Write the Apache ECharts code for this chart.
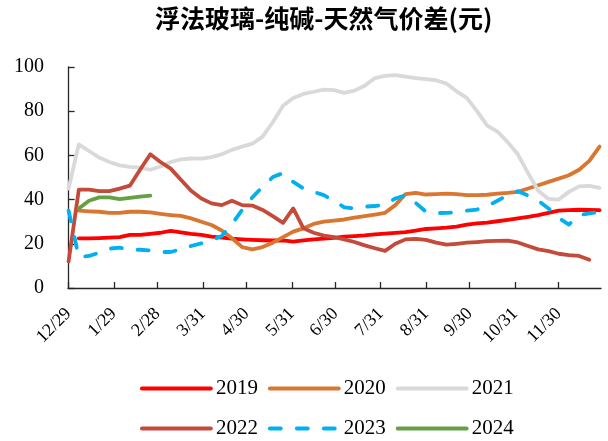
<!DOCTYPE html>
<html>
<head>
<meta charset="utf-8">
<script src="https://cdn.jsdelivr.net/npm/echarts@6/dist/echarts.min.js"></script>
<style>
  html, body { margin: 0; padding: 0; background: #fff; }
  #chart { width: 608px; height: 441px; }
</style>
</head>
<body>
<div id="chart"></div>
<script>
// Weekly sample positions, in days counted from 12/29
const weekDays = [0, 7, 14, 21, 28, 35, 42, 49, 56, 63, 70, 77, 84, 91, 98, 105, 112, 119, 126, 133,
  140, 147, 154, 161, 168, 175, 182, 189, 196, 203, 210, 217, 224, 231, 238, 245, 252, 259, 266,
  273, 280, 287, 294, 301, 308, 315, 322, 329, 336, 343, 350, 357, 364];

// Month-end tick positions (days from 12/29) and their labels
const tickDays = [0, 31, 61, 92, 122, 153, 183, 214, 245, 275, 306, 336];
const tickLabels = ['12/29', '1/29', '2/28', '3/31', '4/30', '5/31', '6/30', '7/31', '8/31', '9/30', '10/31', '11/30'];

const seriesNames = ['2019', '2020', '2021', '2022', '2023', '2024'];

const v2019 = [null, 22.5, 22.5, 22.6, 22.8, 23, 24, 24, 24.5, 25, 25.8, 25.2, 24.5, 24, 23.2, 22.8, 22.3,
  22, 21.8, 21.6, 21.5, 21.5, 21, 21.5, 22, 22.3, 22.7, 23.2, 23.5, 23.8, 24.3, 24.6, 24.9, 25.3, 26,
  26.7, 27, 27.3, 27.8, 28.7, 29.2, 29.6, 30.2, 30.8, 31.5, 32.2, 33, 34, 35, 35.2, 35.4, 35.3, 35.2];

const v2020 = [null, 35, 34.7, 34.5, 34, 34, 34.5, 34.5, 34.2, 33.5, 33, 32.6, 31.5, 30, 28.5, 26, 22.5,
  18.5, 17.5, 18.5, 20.5, 23, 25.5, 27, 29, 30, 30.5, 31, 31.8, 32.5, 33.2, 34, 37.5, 42.5, 43, 42.3,
  42.5, 42.7, 42.5, 42, 42, 42.2, 42.7, 43, 43.5, 45, 46.5, 48, 49.5, 51, 53.5, 57.5, 64];

const v2021 = [45, 65, 62, 59, 57, 55.5, 54.8, 54.5, 53.5, 55, 57, 58.2, 58.6, 58.5, 59.2, 60.5, 62.5,
  64, 65.3, 68.5, 75, 82.5, 86, 87.8, 88.8, 89.8, 89.5, 88.3, 89.3, 91.5, 95, 96, 96.3, 95.6, 95,
  94.5, 94, 92.5, 89, 86, 80, 73.5, 70.8, 66, 60.5, 52, 44, 40.3, 40, 43.5, 46, 46.2, 45.3];

const v2022 = [12, 44.5, 44.5, 43.8, 43.8, 45, 46.3, 53.5, 60.5, 57, 54, 49, 44, 40.5, 38.3, 37.5, 39.5,
  37.5, 37.3, 35.3, 32.5, 29.5, 36, 27, 25, 23.7, 23, 22, 20.8, 19.3, 18, 16.8, 20, 22, 22.2, 21.8,
  20.5, 19.6, 20, 20.5, 20.8, 21.2, 21.3, 21.4, 20.6, 19, 17.5, 16.7, 15.5, 14.9, 14.5, 12.8, null];

const v2023 = [35, 14, 14.5, 16, 17.8, 18.3, 17.3, 17.3, 17, 16.3, 16.3, 17.5, 19, 20.2, 21.5, 23.5, 29,
  35.3, 41, 45.8, 50.2, 52, 48, 45, 43.5, 42, 39.5, 36.5, 36, 36.8, 37.1, 37.8, 40.5, 42, 38.5, 34.5,
  33.9, 34, 34.3, 35, 35.5, 37, 39.5, 42, 43.8, 41.8, 39.5, 36, 31.7, 28.7, 33, 33.8, 34.5];

const v2024 = [null, 36, 39.5, 41, 41, 40.2, 40.8, 41.3, 41.8, null, null, null, null, null, null, null, null,
  null, null, null, null, null, null, null, null, null, null, null, null, null, null, null, null, null,
  null, null, null, null, null, null, null, null, null, null, null, null, null, null, null, null,
  null, null, null];

const seriesValues = [v2019, v2020, v2021, v2022, v2023, v2024];
const seriesColors = ['#FF0000', '#D9762F', '#D9D9D9', '#C44A3A', '#00B0F0', '#65A043'];
const dashPattern = [11, 16];

const serif = '"Liberation Serif", "Times New Roman", serif';

function pairs(values) {
  return weekDays.map((d, i) => [d, values[i]]);
}

const series = seriesNames.map((name, k) => ({
  name: name,
  type: 'line',
  symbol: 'none',
  smooth: false,
  connectNulls: false,
  data: pairs(seriesValues[k]),
  lineStyle: {
    color: seriesColors[k],
    width: 3.8,
    cap: 'round',
    join: 'round',
    type: name === '2023' ? dashPattern : 'solid'
  },
  itemStyle: { color: seriesColors[k] },
  emphasis: { disabled: true }
}));

// Legend entries: plain line swatches, no marker in the middle
const legendBase = {
  orient: 'horizontal',
  left: 140,
  padding: 0,
  itemWidth: 69,
  itemHeight: 14,
  itemGap: 10,
  selectedMode: false,
  itemStyle: { color: 'rgba(0,0,0,0)', borderWidth: 0 },
  lineStyle: { width: 3.8, cap: 'round' },
  textStyle: { fontFamily: serif, fontSize: 21, color: '#000' }
};

const chart = echarts.init(document.getElementById('chart'), null, { renderer: 'canvas' });
chart.setOption({
  animation: false,
  backgroundColor: '#fff',
  title: {
    text: '浮法玻璃-纯碱-天然气价差(元)',
    left: 150,
    top: 1,
    textStyle: {
      fontFamily: '"Noto Sans CJK SC", sans-serif',
      fontWeight: 'bold',
      fontSize: 25,
      color: '#000'
    }
  },
  legend: [
    Object.assign({}, legendBase, { top: 378, data: seriesNames.slice(0, 3) }),
    Object.assign({}, legendBase, { top: 418, data: seriesNames.slice(3) })
  ],
  grid: { left: 68, right: 7, top: 67, bottom: 153, containLabel: false },
  xAxis: {
    type: 'value',
    // a hair below 0 so the 12/29 label is laid out like every other month label
    min: -0.4,
    max: 365,
    splitLine: { show: false },
    axisLine: { show: true, lineStyle: { color: '#262626', width: 1.3 } },
    axisTick: {
      show: true,
      inside: true,
      length: 6,
      customValues: tickDays,
      lineStyle: { color: '#262626', width: 1.3 }
    },
    axisLabel: {
      customValues: tickDays,
      rotate: 45,
      margin: 23,
      fontFamily: serif,
      fontSize: 18,
      color: '#000',
      formatter: function (v) {
        const i = tickDays.indexOf(v);
        return i >= 0 ? tickLabels[i] : '';
      }
    }
  },
  yAxis: {
    type: 'value',
    min: 0,
    max: 100,
    interval: 20,
    splitLine: { show: false },
    axisLine: { show: true, lineStyle: { color: '#262626', width: 1.3 } },
    axisTick: { show: true, inside: true, length: 6, lineStyle: { color: '#262626', width: 1.3 } },
    axisLabel: { fontFamily: serif, fontSize: 20, color: '#000', margin: 24 }
  },
  series: series
});
</script>
</body>
</html>
